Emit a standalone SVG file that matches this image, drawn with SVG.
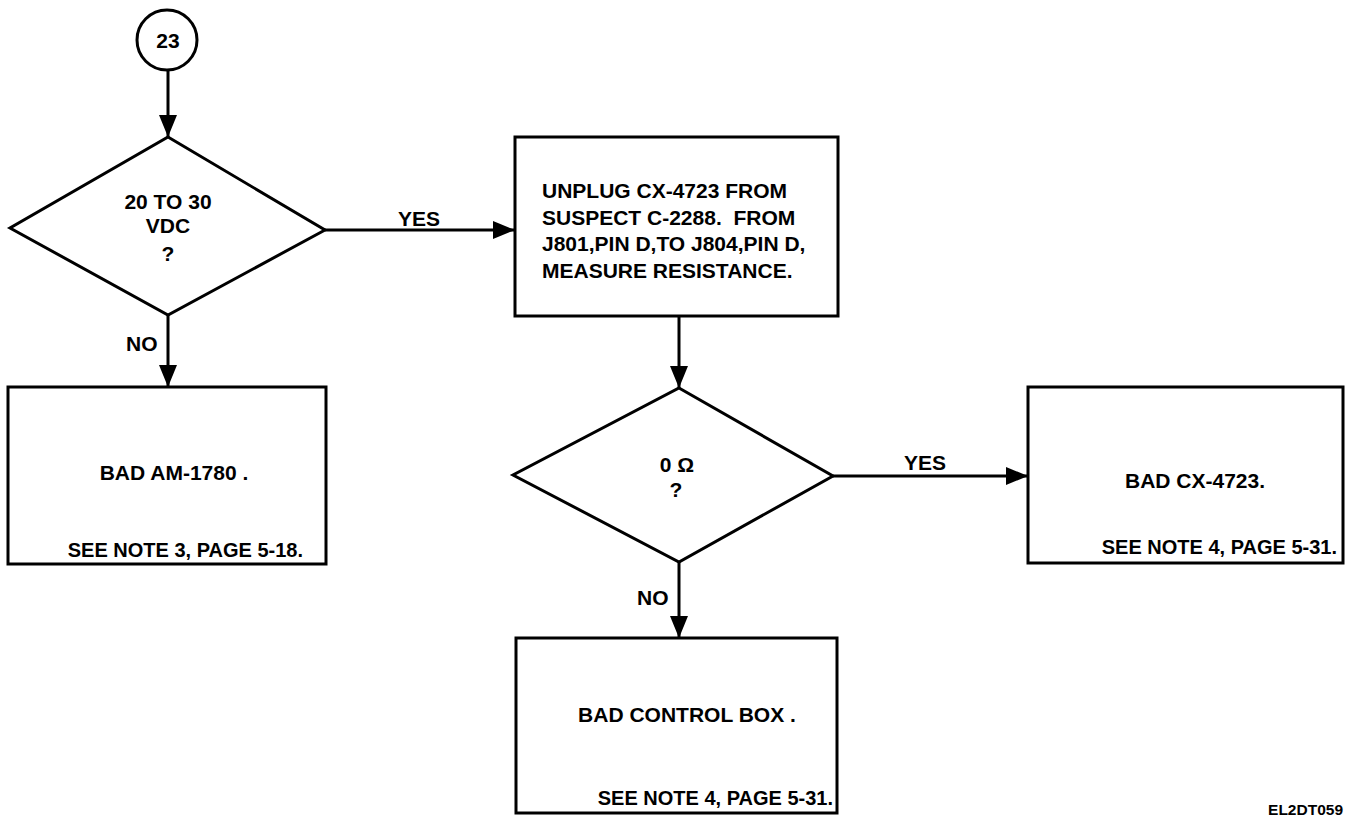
<svg xmlns="http://www.w3.org/2000/svg" width="1346" height="817" viewBox="0 0 1346 817">
<defs>
<style>
.s{fill:none;stroke:#000;stroke-width:3}
.n{fill:#fff;stroke:#000;stroke-width:3}
.t{font-family:"Liberation Sans",Arial,sans-serif;font-weight:bold;font-size:21px;fill:#000;white-space:pre}
.m{font-size:20px}
.c{text-anchor:middle}
.e{text-anchor:end}
</style>
<marker id="av" viewBox="0 0 22 18" refX="22" refY="9" markerWidth="22" markerHeight="18" orient="auto" markerUnits="userSpaceOnUse">
<path d="M0,0 L22,9 L0,18 Z" fill="#000"/>
</marker>
</defs>
<rect width="1346" height="817" fill="#fff"/>
<g id="connectors">
<line class="s" x1="168" y1="70" x2="168" y2="137" marker-end="url(#av)"/>
<line class="s" x1="325" y1="230" x2="515" y2="230" marker-end="url(#av)"/>
<line class="s" x1="168" y1="315" x2="168" y2="387" marker-end="url(#av)"/>
<line class="s" x1="679" y1="316" x2="679" y2="388" marker-end="url(#av)"/>
<line class="s" x1="833" y1="476" x2="1028" y2="476" marker-end="url(#av)"/>
<line class="s" x1="679" y1="562" x2="679" y2="638" marker-end="url(#av)"/>
<text class="t" x="398" y="226">YES</text>
<text class="t" x="126" y="351">NO</text>
<text class="t" x="904" y="470">YES</text>
<text class="t" x="637" y="605">NO</text>
</g>
<g id="start">
<circle class="n" cx="167" cy="40" r="30"/>
<text class="t c" x="168" y="48">23</text>
</g>
<g id="d1">
<polygon class="n" points="168,137 325,230 168,315 10,228"/>
<text class="t c" x="168" y="209">20 TO 30</text>
<text class="t c" x="168" y="233">VDC</text>
<text class="t c" x="168" y="261">?</text>
</g>
<g id="box2">
<rect class="n" x="515" y="137" width="323" height="179"/>
<text class="t" x="542" y="198">UNPLUG CX-4723 FROM</text>
<text class="t" x="542" y="225" xml:space="preserve">SUSPECT C-2288.  FROM</text>
<text class="t" x="542" y="251">J801,PIN D,TO J804,PIN D,</text>
<text class="t" x="542" y="278">MEASURE RESISTANCE.</text>
</g>
<g id="box1">
<rect class="n" x="8" y="387" width="318" height="177"/>
<text class="t c" x="174" y="480">BAD AM-1780 .</text>
<text class="t m e" x="303" y="557">SEE NOTE 3, PAGE 5-18.</text>
</g>
<g id="d2">
<polygon class="n" points="679,388 833,476 679,562 513,475"/>
<text class="t c" x="677" y="472">0 Ω</text>
<text class="t c" x="676" y="497">?</text>
</g>
<g id="box3">
<rect class="n" x="1028" y="387" width="315" height="176"/>
<text class="t c" x="1195" y="488">BAD CX-4723.</text>
<text class="t m e" x="1337" y="554">SEE NOTE 4, PAGE 5-31.</text>
</g>
<g id="box4">
<rect class="n" x="516" y="638" width="321" height="175"/>
<text class="t c" x="687" y="722">BAD CONTROL BOX .</text>
<text class="t m e" x="833" y="805">SEE NOTE 4, PAGE 5-31.</text>
</g>
<text class="t e" x="1343" y="815" style="font-size:15.5px">EL2DT059</text>
</svg>
